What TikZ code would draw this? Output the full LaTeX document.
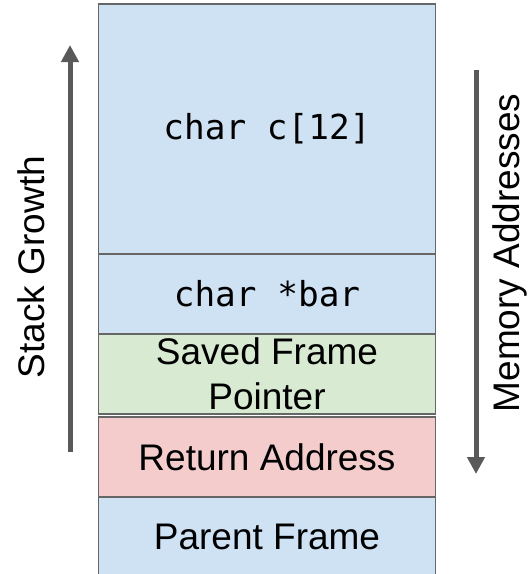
\documentclass[tikz,border=0pt]{standalone}
\usepackage{fontspec}
\setmainfont{Liberation Sans}
\newfontfamily\codefont{DejaVu Sans Mono}
\usetikzlibrary{arrows.meta}
\definecolor{boxblue}{HTML}{CFE2F3}
\definecolor{boxgreen}{HTML}{D9EAD3}
\definecolor{boxred}{HTML}{F4CCCC}
\definecolor{edgegray}{HTML}{666666}
\definecolor{arrowgray}{HTML}{595959}
\tikzset{
  cell/.style={draw=edgegray, line width=1.4pt, minimum width=337pt, inner sep=0pt, outer sep=0pt, align=center, font=\fontsize{37}{45}\selectfont},
  codecell/.style={cell, font=\codefont\fontsize{34.4}{40}\selectfont},
  bigarrow/.style={draw=arrowgray, line width=5pt, -{Triangle[width=17pt,length=17pt]}},
  sidelabel/.style={rotate=90, anchor=base, inner sep=0pt, font=\fontsize{37}{45}\selectfont}
}
\begin{document}
\begin{tikzpicture}[x=1pt,y=-1pt]
\useasboundingbox (0,0) rectangle (531,574);
\fill[white] (0,0) rectangle (531,574);
\begin{scope}
\clip (0,0) rectangle (531,574);
\node[codecell, fill=boxblue, minimum height=250pt] (c12) at (267,129) {char c[12]};
\node[codecell, fill=boxblue, minimum height=80pt] (bar) at (267,294) {char *bar};
\node[cell, fill=boxgreen, minimum height=80pt] (sfp) at (267,374) {Saved Frame\\Pointer};
\node[cell, fill=boxred, minimum height=80pt] (ra) at (267,457) {Return Address};
\node[cell, fill=boxblue, minimum height=80pt] (pf) at (267,537) {Parent Frame};
\end{scope}
\coordinate (sgbot) at (70,452);
\coordinate (sgtop) at (70,45);
\draw[bigarrow] (sgbot) -- (sgtop);
\node[sidelabel] (sg) at (44,267) {Stack Growth};
\coordinate (matop) at (476,70);
\coordinate (mabot) at (476,474);
\draw[bigarrow] (matop) -- (mabot);
\node[sidelabel] (ma) at (519,253) {Memory Addresses};
\end{tikzpicture}
\end{document}
